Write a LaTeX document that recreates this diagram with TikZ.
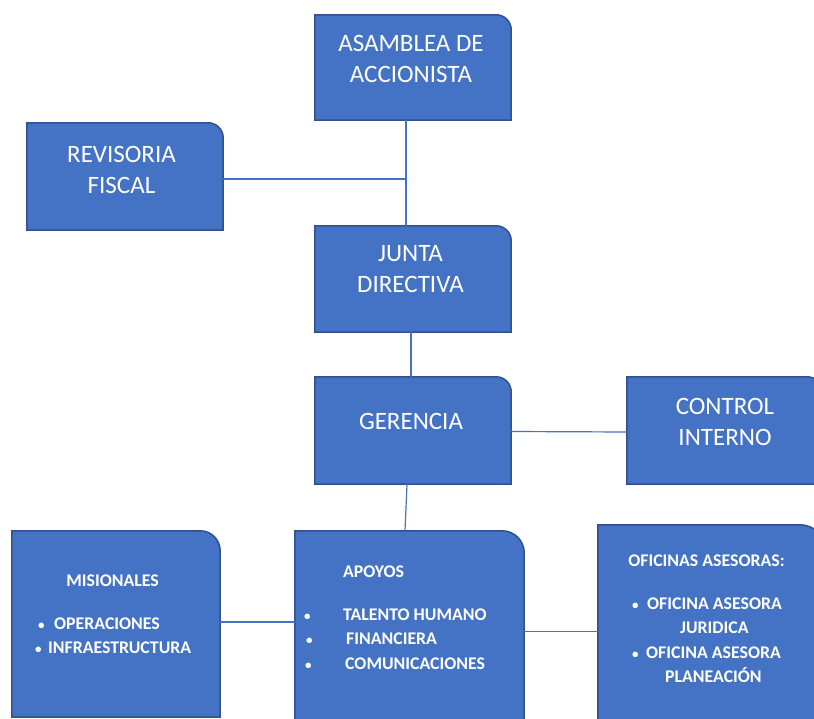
\documentclass[tikz,border=0pt]{standalone}
\usepackage{fontspec}
\setmainfont{Carlito}
\usepackage{tikz}
\definecolor{orgfill}{HTML}{4472C4}
\definecolor{orgedge}{HTML}{2F528F}
\newcommand{\orgbox}[2]{%
  \draw[orgedge, fill=orgfill, line width=1.5pt] (#1.south west) -- (#1.north west)
    -- ([xshift=-#2]#1.north east) arc[start angle=90, end angle=0, radius=#2]
    -- (#1.south east) -- cycle;}
\newcommand{\orgdot}{{\fontsize{13}{13}\selectfont •}}

\begin{document}
\begin{tikzpicture}[x=1pt, y=-1pt]
    \tikzstyle{unit} = [rectangle, draw=none, fill=none, inner sep=0pt]
    \tikzstyle{big} = [text=white, align=center, inner sep=0pt, font=\fontsize{25}{31}\selectfont]
    \tikzstyle{small} = [text=white, align=left, inner sep=0pt, font=\bfseries\fontsize{17.8}{24.5}\selectfont]
    \tikzstyle{link} = [draw=orgfill, line width=1.2pt]
    \useasboundingbox (0,0) rectangle (814,719);

    % cajas
    \node[unit, minimum width=196pt, minimum height=105pt] (asamblea) at (413,67.5) {};
    \node[unit, minimum width=196pt, minimum height=107pt] (revisoria) at (125,176.5) {};
    \node[unit, minimum width=196pt, minimum height=106pt] (junta) at (413,279) {};
    \node[unit, minimum width=196pt, minimum height=107pt] (gerencia) at (413,430.5) {};
    \node[unit, minimum width=195pt, minimum height=107pt] (control) at (724.5,430.5) {};
    \node[unit, minimum width=208pt, minimum height=186pt] (misionales) at (116,624) {};
    \node[unit, minimum width=229pt, minimum height=194pt] (apoyos) at (409.5,628) {};
    \node[unit, minimum width=227pt, minimum height=200pt] (oficinas) at (711.5,625) {};
    \foreach \b/\r in {asamblea/15pt, revisoria/15pt, junta/15pt, gerencia/15pt,
        control/15pt, misionales/20pt, apoyos/22pt, oficinas/25pt} {\orgbox{\b}{\r}}

    % lineas
    \coordinate (fiscal-join) at (406,179);
    \draw[link] ([xshift=-7pt]asamblea.south) -- ([xshift=-7pt]junta.north);
    \draw[link] (revisoria.east |- fiscal-join) -- (fiscal-join);
    \draw[link] ([xshift=-2pt]junta.south) -- ([xshift=-2pt]gerencia.north);
    \draw[link] ([yshift=-1pt]gerencia.east) -- ([yshift=-1.5pt]control.west);
    \draw[link] ([xshift=-6pt]gerencia.south) -- ([xshift=-4.5pt]apoyos.north);
    \draw[link] ([yshift=2pt]misionales.east) -- ([yshift=6pt]apoyos.west);
    \draw[link] ([yshift=-3.5pt]apoyos.east) -- ([yshift=-6.5pt]oficinas.west);

    % textos
    \node[big] (asamblea-txt) at (411,59) {ASAMBLEA DE\\ACCIONISTA};
    \node[big] (revisoria-txt) at (121.5,169.5) {REVISORIA\\FISCAL};
    \node[big] (junta-txt) at (410.5,269) {JUNTA\\DIRECTIVA};
    \node[big] (gerencia-txt) at (411,421) {GERENCIA};
    \node[big] (control-txt) at (725,421.5) {CONTROL\\INTERNO};

    \node[small] (misionales-tit) at (112.5,581) {MISIONALES};
    \node[small, anchor=north west] (misionales-lst) at (35,617.5)
        {\hspace*{3pt}\makebox[16pt][l]{\orgdot}OPERACIONES\\\makebox[13pt][l]{\orgdot}INFRAESTRUCTURA};

    \node[small, anchor=west] (apoyos-tit) at (343,572) {APOYOS};
    \node[small, anchor=north west] (apoyos-lst) at (304,608.5)
        {\makebox[39pt][l]{\orgdot}TALENTO HUMANO\\\hspace*{2pt}\makebox[40pt][l]{\orgdot}FINANCIERA\\\hspace*{1pt}\makebox[40pt][l]{\orgdot}COMUNICACIONES};

    \node[small] (oficinas-tit) at (706.5,561) {OFICINAS ASESORAS:};
    \node[small, anchor=north west] (oficinas-lst) at (632,597.5)
        {\makebox[15pt][l]{\orgdot}OFICINA ASESORA\\\hspace*{48pt}JURIDICA\\\makebox[14pt][l]{\orgdot}OFICINA ASESORA\\\hspace*{33pt}PLANEACIÓN};
\end{tikzpicture}
\end{document}
